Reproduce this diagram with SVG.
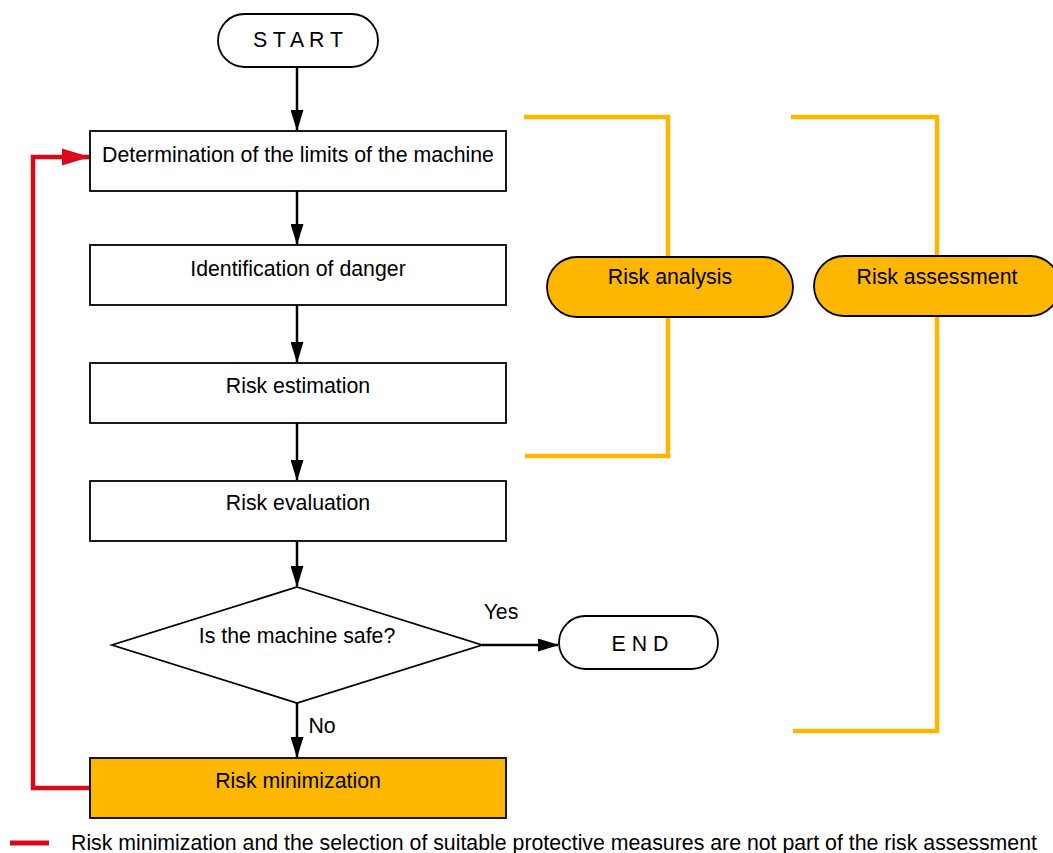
<svg xmlns="http://www.w3.org/2000/svg" width="1053" height="853" viewBox="0 0 1053 853">
<style>
text{font-family:"Liberation Sans",Arial,sans-serif;font-size:21.3px;fill:#000;text-anchor:middle}
.box{fill:#fff;stroke:#000;stroke-width:1.8}
.org{fill:#FDB700;stroke:#000;stroke-width:1.8}
.con{fill:none;stroke:#000;stroke-width:2.5}
.brk{fill:none;stroke:#FDB700;stroke-width:4.5}
.red{fill:none;stroke:#DA0A1A;stroke-width:4.5}
</style>
<defs>
<marker id="ah" markerUnits="userSpaceOnUse" markerWidth="21" markerHeight="13" refX="20" refY="6.5" viewBox="0 0 21 13" orient="auto">
<path d="M0,0 L21,6.5 L0,13 Z" fill="#000"/>
</marker>
<marker id="rh" markerUnits="userSpaceOnUse" markerWidth="28" markerHeight="18" refX="27" refY="8.5" viewBox="0 0 28 17" orient="auto">
<path d="M0,0 L28,8.5 L0,17 Z" fill="#DA0A1A"/>
</marker>
</defs>
<g id="brackets">
<path class="brk" d="M524,117 H668 V456 H525"/>
<path class="brk" d="M791,117 H937 V731 H793"/>
</g>
<g id="connectors">
<line class="con" x1="297" y1="67" x2="297" y2="130" marker-end="url(#ah)"/>
<line class="con" x1="297" y1="191" x2="297" y2="244" marker-end="url(#ah)"/>
<line class="con" x1="297" y1="305" x2="297" y2="362" marker-end="url(#ah)"/>
<line class="con" x1="297" y1="423" x2="297" y2="480" marker-end="url(#ah)"/>
<line class="con" x1="297" y1="541" x2="297" y2="586" marker-end="url(#ah)"/>
<line class="con" x1="297" y1="703" x2="297" y2="757" marker-end="url(#ah)"/>
<line class="con" x1="482" y1="645" x2="558" y2="645" marker-end="url(#ah)"/>
<path class="red" d="M90,788 H33 V157 H89" marker-end="url(#rh)"/>
<text x="501" y="619">Yes</text>
<text x="322" y="733">No</text>
</g>
<g id="start">
<rect class="box" x="218" y="14" width="160" height="53" rx="26.5"/>
<text x="298" y="47">S T A R T</text>
</g>
<g id="limits">
<rect class="box" x="90" y="131" width="416" height="60"/>
<text x="298" y="162">Determination of the limits of the machine</text>
</g>
<g id="danger">
<rect class="box" x="90" y="245" width="416" height="60"/>
<text x="298" y="276">Identification of danger</text>
</g>
<g id="estimation">
<rect class="box" x="90" y="363" width="416" height="60"/>
<text x="298" y="393">Risk estimation</text>
</g>
<g id="evaluation">
<rect class="box" x="90" y="481" width="416" height="60"/>
<text x="298" y="510">Risk evaluation</text>
</g>
<g id="decision">
<path class="box" d="M297,587 L482,645 L297,703 L112,645 Z"/>
<text x="297" y="643">Is the machine safe?</text>
</g>
<g id="end">
<rect class="box" x="559" y="616" width="159" height="53" rx="26.5"/>
<text x="640" y="651">E N D</text>
</g>
<g id="minimization">
<rect class="org" x="90" y="758" width="416" height="60"/>
<text x="298" y="788">Risk minimization</text>
</g>
<g id="analysis">
<rect class="org" x="547" y="257" width="246" height="60" rx="30"/>
<text x="670" y="284">Risk analysis</text>
</g>
<g id="assessment">
<rect class="org" x="814" y="256" width="246" height="60" rx="30"/>
<text x="937" y="284">Risk assessment</text>
</g>
<g id="legend">
<line x1="10" y1="843" x2="49" y2="843" stroke="#DA0A1A" stroke-width="5"/>
<text x="71" y="850" style="text-anchor:start">Risk minimization and the selection of suitable protective measures are not part of the risk assessment</text>
</g>
</svg>
